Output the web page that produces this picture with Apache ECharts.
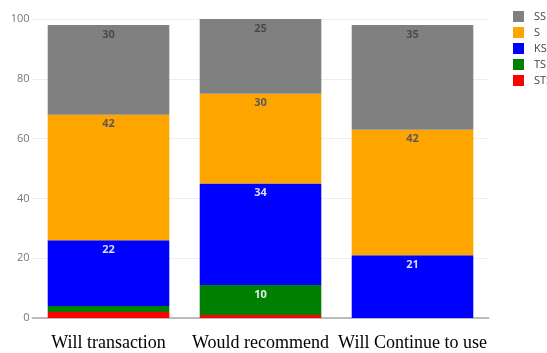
<!DOCTYPE html>
<html>
<head>
<meta charset="utf-8">
<script src="https://cdn.jsdelivr.net/npm/echarts@6/dist/echarts.min.js"></script>
<style>
  html, body { margin: 0; padding: 0; background: #fff; }
  #chart { width: 547px; height: 353px; }
</style>
</head>
<body>
<div id="chart"></div>
<script>
// Survey answers per question, stacked from the bottom (STS) to the top (SS)
const categories = ['Will transaction', 'Would recommend', 'Will Continue to use'];
const sts = [2, 1, 0];
const ts = [2, 10, 0];
const ks = [22, 34, 21];
const s = [42, 30, 42];
const ss = [30, 25, 35];
const yTicks = [0, 20, 40, 60, 80, 100];

const seriesDefs = [
  { name: 'STS', data: sts, color: '#ff0000', text: '#ffffff' },
  { name: 'TS', data: ts, color: '#008000', text: '#e6eee6' },
  { name: 'KS', data: ks, color: '#0000ff', text: '#dcdcff' },
  { name: 'S', data: s, color: '#ffa500', text: '#5a5a5a' },
  { name: 'SS', data: ss, color: '#808080', text: '#4a4a4a' }
];

const chart = echarts.init(document.getElementById('chart'), null, { renderer: 'canvas' });

chart.setOption({
  animation: false,
  grid: { left: 32.5, right: 58.5, top: 19, bottom: 35 },
  legend: {
    orient: 'vertical',
    left: 508,
    top: 6,
    itemWidth: 11,
    itemHeight: 11,
    itemGap: 5,
    icon: 'rect',
    data: ['SS', 'S', 'KS', 'TS', 'STS'],
    textStyle: { color: '#444', fontSize: 11, fontFamily: 'Open Sans', padding: [0, 0, 0, 5] }
  },
  xAxis: {
    type: 'category',
    data: categories,
    axisTick: { show: false },
    axisLine: { lineStyle: { color: '#bbbbbb', width: 2 } },
    axisLabel: {
      color: '#000',
      fontFamily: 'Liberation Serif',
      fontSize: 18,
      margin: 16,
      interval: 0
    }
  },
  yAxis: {
    type: 'value',
    min: yTicks[0],
    max: yTicks[yTicks.length - 1],
    interval: 20,
    axisLine: { show: false },
    axisTick: { show: false },
    splitLine: { lineStyle: { color: '#eeeeee', width: 1 } },
    axisLabel: { color: '#777', fontSize: 11, fontFamily: 'Open Sans', margin: 3 }
  },
  series: seriesDefs.map(d => ({
    name: d.name,
    type: 'bar',
    stack: 'total',
    barCategoryGap: '20%',
    itemStyle: { color: d.color },
    label: {
      show: true,
      position: 'insideTop',
      distance: 4,
      color: d.text,
      fontSize: 11,
      fontWeight: 'bold',
      fontFamily: 'Open Sans',
      formatter: p => (p.value >= 5 ? String(p.value) : '')
    },
    data: d.data
  }))
});
</script>
</body>
</html>
